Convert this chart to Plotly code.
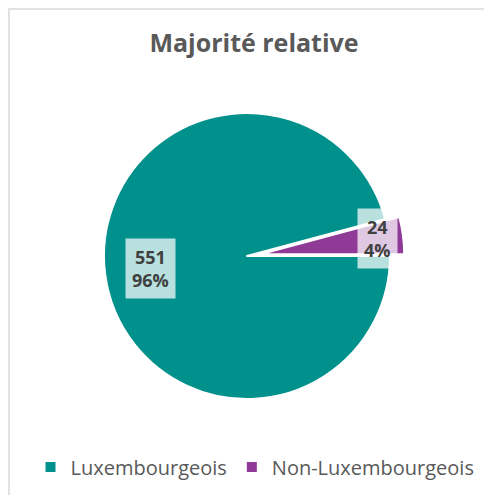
import math
import plotly.graph_objects as go

labels = ["Luxembourgeois", "Non-Luxembourgeois"]
values = [551, 24]
colors = ["#00918d", "#8e3a96"]
pulls = [0, 0.1]

W, H = 492, 495
cx, cy = 239, 248  # pie centre in px from the figure's top-left
R = 143            # pie radius in px
rotation = 90

# domain big enough for the pulled slice
half = R * (1 + max(pulls))
dom_x = [(cx - half) / W, (cx + half) / W]
dom_y = [1 - (cy + half) / H, 1 - (cy - half) / H]

fig = go.Figure()
fig.add_trace(go.Pie(
    labels=labels,
    values=values,
    marker=dict(colors=colors, line=dict(color="white", width=2)),
    pull=pulls,
    sort=False,
    direction="clockwise",
    rotation=rotation,
    textinfo="none",
    hoverinfo="label+value+percent",
    domain=dict(x=dom_x, y=dom_y),
))

# data labels with light boxes, placed from the slice angles
total = sum(values)
label_dist = [0.68, 0.82]
start = rotation
for v, d, p in zip(values, label_dist, pulls):
    span = v / total * 360
    mid = start + span / 2
    start += span
    a = math.radians(90 - mid)
    px = cx + (d + p) * R * math.cos(a)
    py = cy - (d + p) * R * math.sin(a)
    pct = round(v / total * 100)
    fig.add_annotation(
        x=px / W, y=1 - py / H, xref="paper", yref="paper",
        xanchor="center", yanchor="middle",
        text=f"<b>{v}</b><br><b>{pct}%</b>",
        showarrow=False,
        font=dict(family="Open Sans", size=18, color="#404040"),
        bgcolor="rgba(255,255,255,0.72)",
        borderpad=6,
        align="center",
    )

# chart-area border (left and top edges visible)
fig.add_shape(type="path", xref="paper", yref="paper",
              path=f"M 0.002,0 L 0.002,{1 - 1 / H} L 1,{1 - 1 / H}",
              line=dict(color="#d9d9d9", width=1.5))

fig.update_layout(
    width=W, height=H,
    margin=dict(l=0, r=0, t=0, b=0),
    paper_bgcolor="white",
    title=dict(text="<b>Majorité relative</b>", x=246 / W, xanchor="center",
               y=1 - 35 / H, yanchor="middle",
               font=dict(family="Open Sans", size=25, color="#595959")),
    legend=dict(orientation="h", x=247 / W, xanchor="center", y=1 - 459 / H, yanchor="middle",
                font=dict(family="Open Sans", size=20, color="#595959"),
                itemwidth=30, traceorder="normal"),
)

fig.write_html("out.html")
